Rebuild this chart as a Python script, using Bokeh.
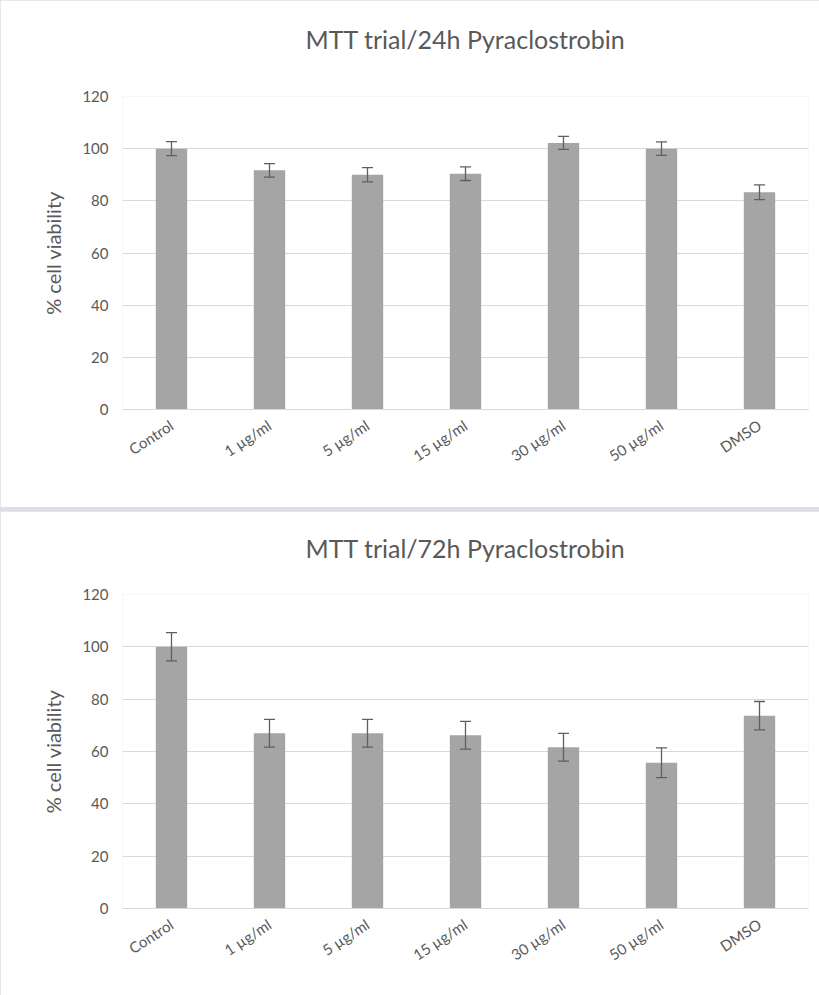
import math
from bokeh.plotting import figure
from bokeh.models import ColumnDataSource, Whisker, TeeHead, Range1d, FixedTicker, Title
from bokeh.layouts import column
from bokeh.embed import file_html
from bokeh.resources import INLINE

categories = ["Control", "1 µg/ml", "5 µg/ml", "15 µg/ml", "30 µg/ml", "50 µg/ml", "DMSO"]

vals_24h = [100.0, 91.7, 90.0, 90.4, 102.2, 100.0, 83.3]
err_24h = [2.7, 2.6, 2.7, 2.6, 2.5, 2.6, 2.8]

vals_72h = [100.0, 67.0, 67.0, 66.2, 61.6, 55.7, 73.7]
err_72h = [5.4, 5.3, 5.3, 5.3, 5.3, 5.7, 5.4]

titles = ["MTT trial/24h Pyraclostrobin", "MTT trial/72h Pyraclostrobin"]
y_ticks = [0, 20, 40, 60, 80, 100, 120]

FONT = "Lato"
TXT = "#595959"


def make_chart(title, vals, errs, height, top, bottom, spacer_px):
    src = ColumnDataSource(dict(
        cat=categories, v=vals,
        lo=[a - b for a, b in zip(vals, errs)],
        hi=[a + b for a, b in zip(vals, errs)],
    ))
    p = figure(x_range=categories, y_range=Range1d(0, 120),
               width=819, height=height, output_backend="svg",
               toolbar_location=None,
               min_border_left=122, min_border_right=11,
               min_border_top=top, min_border_bottom=bottom)
    p.vbar(x="cat", top="v", width=0.32, source=src,
           fill_color="#a5a5a5", line_color=None)
    w = Whisker(base="cat", lower="lo", upper="hi", source=src,
                line_color="#5f5f5f", line_width=1.3, level="overlay",
                upper_head=TeeHead(size=11, line_color="#5f5f5f", line_width=1.3),
                lower_head=TeeHead(size=11, line_color="#5f5f5f", line_width=1.3))
    p.add_layout(w)

    # invisible spacer title nearest the frame, then the real title
    p.add_layout(Title(text=" ", text_font_size=f"{spacer_px}px", standoff=0,
                       text_color="white"), "above")
    p.add_layout(Title(text=title, align="center", text_font=FONT,
                       text_font_size="25px", text_font_style="normal",
                       text_color=TXT, standoff=0), "above")

    p.outline_line_color = None
    p.xgrid.grid_line_color = None
    p.ygrid.grid_line_color = "#d9d9d9"
    p.ygrid.grid_line_width = 1
    p.yaxis.ticker = FixedTicker(ticks=y_ticks)

    p.yaxis.axis_line_color = None
    p.yaxis.major_tick_line_color = None
    p.yaxis.minor_tick_line_color = None
    p.yaxis.major_label_standoff = 8
    p.yaxis.major_label_text_font = FONT
    p.yaxis.major_label_text_font_size = "15px"
    p.yaxis.major_label_text_color = TXT
    p.yaxis.axis_label = "% cell viability"
    p.yaxis.axis_label_text_font = FONT
    p.yaxis.axis_label_text_font_size = "20px"
    p.yaxis.axis_label_text_font_style = "normal"
    p.yaxis.axis_label_text_color = TXT
    p.yaxis.axis_label_standoff = 14

    p.xaxis.axis_line_color = "#d9d9d9"
    p.xaxis.major_tick_line_color = None
    p.xaxis.minor_tick_line_color = None
    p.xaxis.major_label_orientation = 0.58
    p.xaxis.major_label_standoff = 8
    p.xaxis.major_label_text_font = FONT
    p.xaxis.major_label_text_font_size = "15px"
    p.xaxis.major_label_text_color = TXT
    return p


p1 = make_chart(titles[0], vals_24h, err_24h, 507, 96, 98, 37)
p2 = make_chart(titles[1], vals_72h, err_72h, 484, 83, 87, 27)

layout = column(p1, p2, spacing=4, styles={"background-color": "#dcdfe5"})

open("out.html", "w").write(file_html(layout, INLINE))
